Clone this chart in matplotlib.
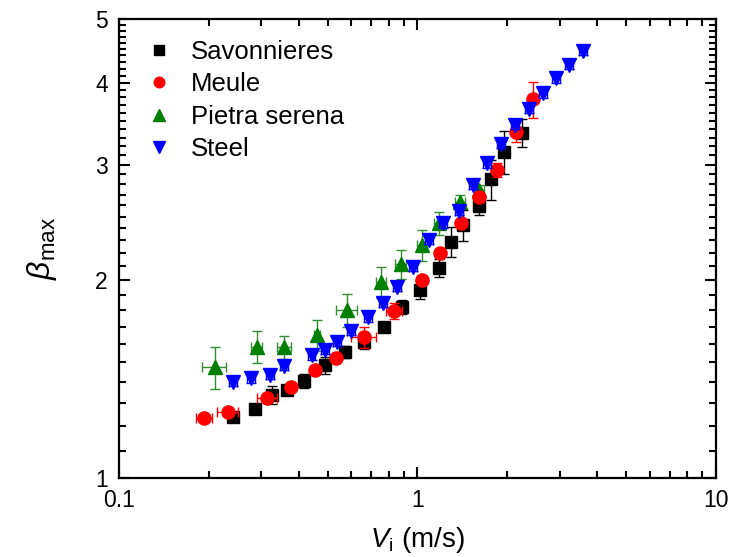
import numpy as np
import matplotlib
matplotlib.use("Agg")
from matplotlib import pyplot as plt
from matplotlib.ticker import NullFormatter

plt.rcParams['font.family'] = ['Liberation Sans', 'DejaVu Sans']
plt.rcParams['mathtext.fontset'] = 'custom'
plt.rcParams['mathtext.rm'] = 'Liberation Sans'
plt.rcParams['mathtext.it'] = 'Liberation Sans:italic'

# Savonnieres
sav_v = [0.2415, 0.2855, 0.325, 0.365, 0.417, 0.490, 0.572, 0.662, 0.772, 0.889,
         1.019, 1.183, 1.295, 1.423, 1.611, 1.763, 1.949, 2.235]
sav_b = [1.237, 1.274, 1.338, 1.361, 1.407, 1.484, 1.554, 1.613, 1.696, 1.823,
         1.933, 2.086, 2.290, 2.428, 2.598, 2.851, 3.140, 3.357]
sav_err = [0.02, 0.02, 0.043, 0.024, 0.035, 0.042, 0.033, 0.04, 0.03, 0.045,
           0.06, 0.066, 0.12, 0.13, 0.083, 0.20, 0.24, 0.16]

# Meule
meu_v = [0.193, 0.232, 0.314, 0.377, 0.454, 0.533, 0.662, 0.836, 1.033, 1.190,
         1.399, 1.607, 1.849, 2.138, 2.443]
meu_b = [1.233, 1.262, 1.325, 1.377, 1.458, 1.525, 1.638, 1.796, 2.002, 2.198,
         2.448, 2.674, 2.944, 3.365, 3.773]
meu_verr = [0.01, 0.01, 0.01, 0.01, 0.01, 0.02, 0.06, 0.05, 0.02, 0.02,
            0.03, 0.04, 0.073, 0.12, 0.24]
meu_herr = [0.012, 0.019, 0.025, 0.01, 0.01, 0.01, 0.064, 0.053, 0.01, 0.01,
            0.02, 0.02, 0.02, 0.02, 0.02]

# Pietra serena
pie_v = [0.209, 0.289, 0.358, 0.461, 0.579, 0.755, 0.878, 1.038, 1.183, 1.388, 1.613]
pie_b = [1.474, 1.585, 1.581, 1.651, 1.803, 1.990, 2.116, 2.264, 2.443, 2.635, 2.746]
pie_verr = [0.11, 0.09, 0.063, 0.089, 0.105, 0.107, 0.105, 0.122, 0.095, 0.066, 0.05]
pie_herr = [0.019, 0.013, 0.019, 0.01, 0.046, 0.03, 0.035, 0.04, 0.045, 0.05, 0.06]

# Steel
ste_v = [0.2415, 0.277, 0.321, 0.358, 0.442, 0.489, 0.538, 0.599, 0.684, 0.768,
         0.852, 0.968, 1.095, 1.220, 1.377, 1.538, 1.706, 1.905, 2.122, 2.363,
         2.627, 2.911, 3.225, 3.576]
ste_b = [1.402, 1.419, 1.435, 1.481, 1.537, 1.566, 1.613, 1.675, 1.757, 1.849,
         1.956, 2.096, 2.304, 2.443, 2.551, 2.794, 3.015, 3.226, 3.448, 3.647,
         3.853, 4.061, 4.256, 4.474]

fig = plt.figure(figsize=(7.29, 5.57), dpi=100)
ax = fig.add_axes([0.1632, 0.1418, 0.8190, 0.8241])
ax.set_xscale('log')
ax.set_yscale('log')

eb = dict(linestyle='none', capsize=3.5, elinewidth=1.0, capthick=1.0)

sets = []
sets.append(ax.errorbar(sav_v, sav_b, yerr=sav_err, xerr=np.array(sav_v) * 0.02, fmt='s',
                        color='black', ecolor='black', markersize=9, zorder=3, **eb))
sets.append(ax.errorbar(meu_v, meu_b, yerr=meu_verr, xerr=meu_herr, fmt='o',
                        color='red', ecolor='red', markersize=9.5, zorder=4, **eb))
sets.append(ax.errorbar(pie_v, pie_b, yerr=pie_verr, xerr=pie_herr, fmt='^',
                        color='green', ecolor=(0.2, 0.55, 0.2), markersize=10.5,
                        zorder=2, **eb))
sets.append(ax.errorbar(ste_v, ste_b, yerr=np.array(ste_b) * 0.015,
                        xerr=np.array(ste_v) * 0.03, fmt='v', color='blue',
                        ecolor='blue', markersize=10.5, zorder=5, **eb))
names = ['Savonnieres', 'Meule', 'Pietra serena', 'Steel']

ax.set_xlim(0.1, 10)
ax.set_ylim(1, 5)

ax.set_xticks([0.1, 1, 10])
ax.set_xticklabels(['0.1', '1', '10'])
ax.set_xticks([m * d for d in (0.1, 1) for m in range(2, 10)], minor=True)
ax.xaxis.set_minor_formatter(NullFormatter())

ax.set_yticks([1, 2, 3, 4, 5])
ax.set_yticklabels(['1', '2', '3', '4', '5'])
ax.set_yticks([round(v, 1) for v in np.arange(1.1, 5.0, 0.1) if abs(v - round(v)) > 1e-6],
              minor=True)
ax.yaxis.set_minor_formatter(NullFormatter())

ax.tick_params(which='both', direction='in', top=True, right=True, width=1.5)
ax.tick_params(which='major', length=8, labelsize=16.5, pad=8)
ax.tick_params(which='minor', length=5)
for s in ax.spines.values():
    s.set_linewidth(1.6)

ax.set_xlabel(r'$V_{\mathrm{i}}$ (m/s)', fontsize=20, labelpad=9)
ax.set_ylabel(r'$\beta_{\mathrm{max}}$', fontsize=23, labelpad=26)

# legend shows the bare markers only
ax.legend([c.lines[0] for c in sets], names, loc='upper left', frameon=False,
          fontsize=18.5, markerscale=0.8, handletextpad=0.5, labelspacing=0.33,
          borderaxespad=0.4, handlelength=1.5)

fig.savefig('out.png', dpi=100)
